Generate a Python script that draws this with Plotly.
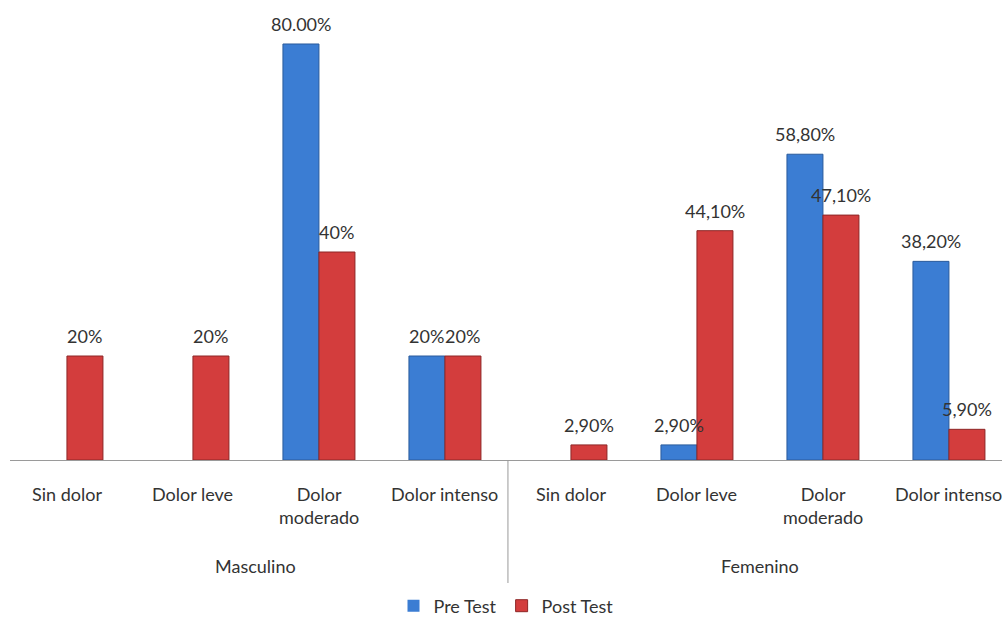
import plotly.graph_objects as go

# Categories (pain level within each sex)
niveles = ["Sin dolor", "Dolor leve", "Dolor<br>moderado", "Dolor intenso",
           "Sin dolor", "Dolor leve", "Dolor<br>moderado", "Dolor intenso"]
grupos = ["Masculino", "Femenino"]

# Percentages per series
pre_test = [0, 0, 80.0, 20.0, 0, 2.9, 58.8, 38.2]
post_test = [20.0, 20.0, 40.0, 20.0, 2.9, 44.1, 47.1, 5.9]

# Data labels as printed on the bars
pre_labels = ["", "", "80.00%", "20%", "", "2,90%", "58,80%", "38,20%"]
post_labels = ["20%", "20%", "40%", "20%", "2,90%", "44,10%", "47,10%", "5,90%"]

FONT = "Lato"
TEXT = "#333333"
PLOT_H = 460      # pixel height of plotting area (baseline position)
BAR_OFFSET = 0.143  # half of one bar width, in category units

xs = list(range(len(niveles)))

def outline(values):
    # no outline on empty bars, so they stay invisible
    return [0 if v == 0 else 1 for v in values]

fig = go.Figure()
fig.add_trace(go.Bar(
    name="Pre Test", x=xs, y=pre_test,
    marker=dict(color="#3b7dd3",
                line=dict(color="#2a5b9c", width=outline(pre_test))),
))
fig.add_trace(go.Bar(
    name="Post Test", x=xs, y=post_test,
    marker=dict(color="#d33d3d",
                line=dict(color="#8e2727", width=outline(post_test))),
))

def py(pixel):
    """Convert a pixel row (from top of page) to paper y."""
    return (PLOT_H - pixel) / PLOT_H

annotations = []
# value labels above each bar
for series, labels, sign in ((pre_test, pre_labels, -1), (post_test, post_labels, 1)):
    for i, (v, lab) in enumerate(zip(series, labels)):
        if not lab:
            continue
        annotations.append(dict(
            x=i + sign * BAR_OFFSET, y=v, xref="x", yref="y", text=lab,
            showarrow=False, yanchor="bottom", xanchor="center", yshift=7,
            font=dict(family=FONT, size=18, color=TEXT),
        ))
# category labels
for i, lab in enumerate(niveles):
    annotations.append(dict(
        x=i, y=py(481), xref="x", yref="paper", text=lab, showarrow=False,
        yanchor="top", xanchor="center",
        font=dict(family=FONT, size=18, color=TEXT),
    ))
# group labels
for g, name in enumerate(grupos):
    annotations.append(dict(
        x=1.5 + 4 * g, y=py(566), xref="x", yref="paper", text=name,
        showarrow=False, yanchor="middle", xanchor="center",
        font=dict(family=FONT, size=18, color=TEXT),
    ))

shapes = [dict(type="line", xref="x", yref="paper", x0=3.5, x1=3.5,
               y0=0, y1=py(583), line=dict(color="#9a9a9a", width=1))]

fig.update_layout(
    width=1002, height=618,
    margin=dict(l=10, r=0, t=0, b=158),
    paper_bgcolor="white", plot_bgcolor="white",
    barmode="group", bargap=0.4286, bargroupgap=0,
    showlegend=True,
    legend=dict(orientation="h", x=0.5, xanchor="center",
                yref="container", y=1 - 606 / 618, yanchor="middle",
                font=dict(family=FONT, size=18, color=TEXT),
                itemwidth=30),
    xaxis=dict(range=[-0.452, 7.421], showticklabels=False, ticks="",
               showgrid=False, zeroline=False, showline=True,
               linecolor="#9a9a9a", linewidth=1),
    yaxis=dict(range=[0, 88.46], visible=False, showgrid=False),
    annotations=annotations, shapes=shapes,
)

fig.write_html("out.html")
